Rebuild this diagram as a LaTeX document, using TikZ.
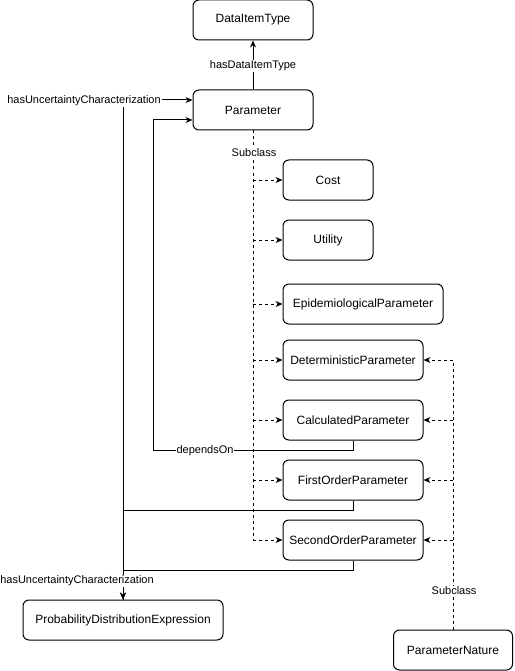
\documentclass[tikz,border=0pt]{standalone}
\usepackage{fontspec}
\setmainfont{Liberation Sans}
\usetikzlibrary{arrows.meta}
\begin{document}
\begin{tikzpicture}[x=1pt,y=-1pt,
  box/.style={draw, line width=1pt, rounded corners=6pt, minimum height=40pt, inner sep=0pt, font=\fontsize{12}{14}\selectfont},
  lbl/.style={fill=white, inner sep=1pt, font=\fontsize{11}{13}\selectfont},
  conn/.style={line width=1pt},
  arr/.style={-{Stealth[length=7pt,width=6pt]}},
  dsh/.style={dash pattern=on 3pt off 3pt}]
\useasboundingbox (0,0) rectangle (514,671);
% boxes
\node[box, minimum width=120pt] (dit) at (253,20) {DataItemType};
\node[box, minimum width=120pt] (param) at (253,110) {Parameter};
\node[box, minimum width=90pt] (cost) at (328,180) {Cost};
\node[box, minimum width=90pt] (util) at (328,240) {Utility};
\node[box, minimum width=160pt] (epi) at (363,304) {EpidemiologicalParameter};
\node[box, minimum width=140pt] (det) at (353,360) {DeterministicParameter};
\node[box, minimum width=140pt] (calc) at (353,420) {CalculatedParameter};
\node[box, minimum width=140pt] (first) at (353,480) {FirstOrderParameter};
\node[box, minimum width=140pt] (second) at (353,540) {SecondOrderParameter};
\node[box, minimum width=200pt] (pde) at (123,620) {ProbabilityDistributionExpression};
\node[box, minimum width=119pt] (pn) at (453,650) {ParameterNature};
% coordinates
\coordinate (sEnd) at (param.south |- second.west);
\coordinate (rEnd) at (pn.north |- det.east);
\coordinate (u1) at (353,510);
\coordinate (u2) at (123,510);
\coordinate (u3) at (123,100);
\coordinate (v1) at (353,570);
\coordinate (v2) at (123,570);
\coordinate (d1) at (353,450);
\coordinate (d2) at (153,450);
\coordinate (d3) at (153,120);
% hasDataItemType
\draw[conn,arr] (param.north) -- (dit.south);
% subclass trunk left
\draw[conn,dsh] (param.south) -- (sEnd);
\foreach \n in {cost,util,epi,det,calc,first,second}
  \draw[conn,dsh,arr] (param.south |- \n.west) -- (\n.west);
% subclass trunk right
\draw[conn,dsh] (pn.north) -- (rEnd);
\foreach \n in {det,calc,first,second}
  \draw[conn,dsh,arr] (pn.north |- \n.east) -- (\n.east);
% hasUncertaintyCharacterization
\draw[conn] (pde.north) -- (u3);
\draw[conn,arr] (u3) -- ([yshift=10pt]param.west);
\draw[conn,arr] (first.south) -- (u1) -- (u2) -- (pde.north);
\draw[conn,arr] (second.south) -- (v1) -- (v2) -- (pde.north);
% dependsOn
\draw[conn,arr] (calc.south) -- (d1) -- (d2) -- (d3) -- ([yshift=-10pt]param.west);
% labels
\node[lbl] (l1) at (253,66) {hasDataItemType};
\node[lbl] (l2) at (254,153) {Subclass};
\node[lbl] (l3) at (84,101) {hasUncertaintyCharacterization};
\node[lbl] (l4) at (77,581) {hasUncertaintyCharacterization};
\node[lbl] (l5) at (205,451) {dependsOn};
\node[lbl] (l6) at (454,591) {Subclass};
\end{tikzpicture}
\end{document}
